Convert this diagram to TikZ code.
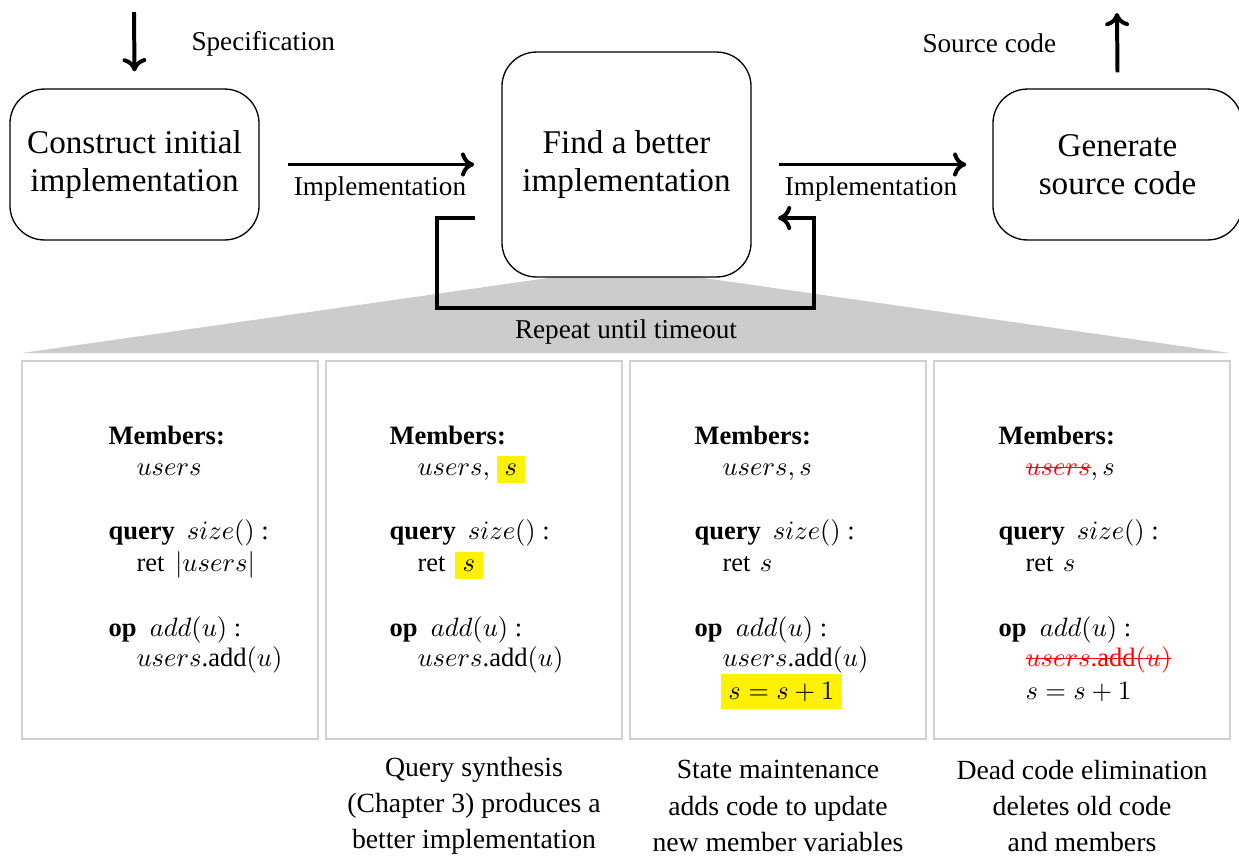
\documentclass[tikz,border=0pt]{standalone}
\usepackage{fontspec}
\setmainfont{Liberation Serif}
\usetikzlibrary{arrows.meta}
\definecolor{hl}{RGB}{255,242,0}
\definecolor{panelgray}{RGB}{208,208,208}
\definecolor{fangray}{RGB}{204,204,204}
\setlength{\fboxsep}{3pt}
\newcommand\redstrike[1]{\textcolor{red}{\setbox0\hbox{#1}\rlap{\rule[0.55ex]{\wd0}{0.5pt}}\box0}}
\newcommand\hlbox[1]{\colorbox{hl}{#1}}
\begin{document}
\begin{tikzpicture}[x=0.377pt,y=-0.377pt,
  procbox/.style={draw=black, line width=0.5pt, rounded corners=13pt, fill=white, align=center,
    font=\fontsize{12.5}{14.3}\selectfont, inner sep=0pt, minimum width=93.9pt},
  flow/.style={line width=1.5pt, -{Computer Modern Rightarrow[length=5pt,width=9pt]}},
  lbl/.style={font=\fontsize{10.25}{12}\selectfont, inner sep=0pt},
  panel/.style={draw=panelgray, line width=0.6pt},
  codeline/.style={anchor=base west, inner sep=0pt, font=\fontsize{10}{12}\selectfont},
  caption/.style={align=center, font=\fontsize{10.45}{13.6}\selectfont, inner sep=0pt, anchor=center}]
\useasboundingbox (0,0) rectangle (1239,858);

% fan
\fill[fangray] (22,353) -- (555,277) -- (697,277) -- (1230,353) -- cycle;

% process boxes
\node[procbox, minimum height=56.9pt] (b1) at (134.5,164.5) {Construct initial\\implementation};
\node[procbox, minimum height=84.8pt] (b2) at (626.5,164.5) {Find a better\\implementation};
\node[procbox, minimum height=56.9pt] (b3) at (1117.5,164.5) {Generate\\source code};

% input / output
\coordinate (specStart) at (134,12);
\draw[flow] (specStart) -- ([yshift=6.4pt]b1.north);
\node[lbl, anchor=base west] (specLbl) at (191,50) {Specification};
\coordinate (srcEnd) at (1117,13);
\draw[flow] ([yshift=6.0pt]b3.north) -- (srcEnd);
\node[lbl, anchor=base west] (srcLbl) at (922,52) {Source code};

% main flow
\draw[flow, shorten <=10.5pt, shorten >=10.2pt] (b1.east) -- (b2.west);
\node[lbl, anchor=base] (impl1) at (380,195) {Implementation};
\draw[flow, shorten <=10.2pt, shorten >=9.8pt] (b2.east) -- (b3.west);
\node[lbl, anchor=base] (impl2) at (871,195) {Implementation};

% loop
\coordinate (loopStart) at (475,218);
\coordinate (loopBL) at (437,308);
\coordinate (loopTR) at (814,218);
\coordinate (loopEnd) at (778,218);
\draw[flow] (loopStart) -| (loopBL) -| (loopTR) -- (loopEnd);
\node[lbl, anchor=base] (repeat) at (626,338) {Repeat\ until\ timeout};

% panels
\draw[panel] (22,361) rectangle (318,739);
\draw[panel] (326,361) rectangle (622,739);
\draw[panel] (630,361) rectangle (926,739);
\draw[panel] (934,361) rectangle (1230,739);

% panel 1
\node[codeline] (p1a) at (108,444) {\textbf{Members:}};
\node[codeline] (p1b) at (136,475) {$users$};
\node[codeline] (p1c) at (108,539) {\textbf{query}\hspace{4.5pt}$size()$\ :};
\node[codeline] (p1d) at (136,571) {ret\hspace{4pt}$|users|$};
\node[codeline] (p1e) at (108,636) {\textbf{op}\hspace{5pt}$add(u)$\ :};
\node[codeline] (p1f) at (136,666) {$users$.add$(u)$};

% panel 2
\node[codeline] (p2a) at (389,444) {\textbf{Members:}};
\node[codeline] (p2b) at (417,475) {$users,$ \hlbox{$s$}};
\node[codeline] (p2c) at (389,539) {\textbf{query}\hspace{4.5pt}$size()$\ :};
\node[codeline] (p2d) at (417,571) {ret\hspace{3.5pt}\hlbox{$s$}};
\node[codeline] (p2e) at (389,636) {\textbf{op}\hspace{5pt}$add(u)$\ :};
\node[codeline] (p2f) at (417,666) {$users$.add$(u)$};

% panel 3
\node[codeline] (p3a) at (694,444) {\textbf{Members:}};
\node[codeline] (p3b) at (722,475) {$users, s$};
\node[codeline] (p3c) at (694,539) {\textbf{query}\hspace{4.5pt}$size()$\ :};
\node[codeline] (p3d) at (722,571) {ret\hspace{3.5pt}$s$};
\node[codeline] (p3e) at (694,636) {\textbf{op}\hspace{5pt}$add(u)$\ :};
\node[codeline] (p3f) at (722,666) {$users$.add$(u)$};
\node[codeline] (p3g) at (720,699) {\hlbox{$s=s+1$}};

% panel 4
\node[codeline] (p4a) at (998,444) {\textbf{Members:}};
\node[codeline] (p4b) at (1025,475) {\redstrike{$users$}$, s$};
\node[codeline] (p4c) at (998,539) {\textbf{query}\hspace{4.5pt}$size()$\ :};
\node[codeline] (p4d) at (1025,571) {ret\hspace{3.5pt}$s$};
\node[codeline] (p4e) at (998,636) {\textbf{op}\hspace{5pt}$add(u)$\ :};
\node[codeline] (p4f) at (1025,666) {\redstrike{$users$.add$(u)$}};
\node[codeline] (p4g) at (1025,699) {$s=s+1$};

% captions
\node[caption] (cap2) at (474,806) {Query synthesis\\(Chapter 3) produces a\\better implementation};
\node[caption] (cap3) at (778,806) {State maintenance\\adds code to update\\new member variables};
\node[caption] (cap4) at (1082,806) {Dead code elimination\\deletes old code\\and members};
\end{tikzpicture}
\end{document}
